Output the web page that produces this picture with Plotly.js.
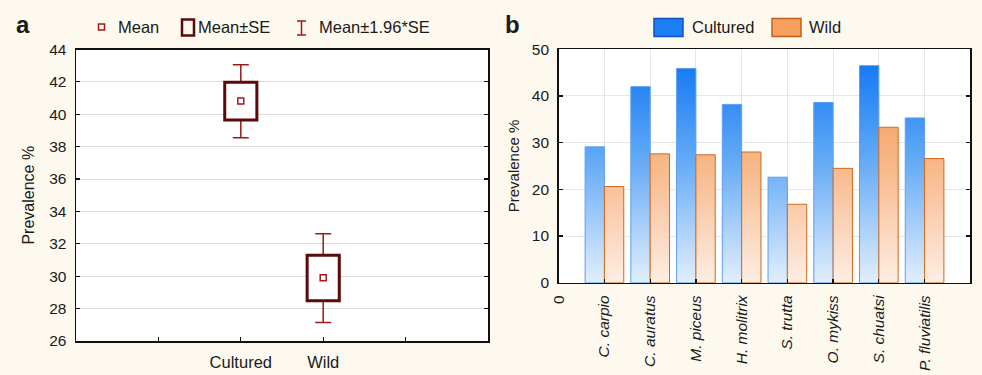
<!DOCTYPE html>
<html>
<head>
<meta charset="utf-8">
<script src="https://cdn.plot.ly/plotly-3.0.1.min.js"></script>
<style>html,body{margin:0;padding:0;background:#fdf9ef;}#chart{width:982px;height:375px;}</style>
</head>
<body>
<div id="chart"></div>
<script>
// ---- Panel a: summary statistics ----
const groups = ['Cultured', 'Wild'];
const meanVals = [40.82, 29.91];
const seLower = [39.65, 28.49];
const seUpper = [41.97, 31.29];
const ciLower = [38.55, 27.15];
const ciUpper = [43.06, 32.62];
const yTicksA = [26, 28, 30, 32, 34, 36, 38, 40, 42, 44];

// ---- Panel b: prevalence by species ----
const species = ['C. carpio', 'C. auratus', 'M. piceus', 'H. molitrix', 'S. trutta', 'O. mykiss', 'S. chuatsi', 'P. fluviatilis'];
const cultured = [29.1, 42.0, 45.9, 38.2, 22.6, 38.6, 46.5, 35.3];
const wild = [20.6, 27.6, 27.4, 28.0, 16.8, 24.5, 33.3, 26.6];
const seriesNames = ['Cultured', 'Wild'];

const FONT = 'Liberation Sans, Arial, Helvetica, sans-serif';
const W = 982, H = 375;
const px = v => v / W;
const py = v => 1 - v / H;

const posA = groups.map((g, i) => i);
const posB = species.map((s, i) => i + 1);

const data = [
  // whiskers (Mean ± 1.96*SE) carried by an invisible bar so they sit under the SE box
  {
    type: 'bar', x: posA, y: meanVals, xaxis: 'x', yaxis: 'y',
    offsetgroup: 'a', width: 0.39,
    marker: {color: 'rgba(0,0,0,0)', line: {width: 0}},
    error_y: {
      type: 'data', symmetric: false,
      array: meanVals.map((m, i) => ciUpper[i] - m),
      arrayminus: meanVals.map((m, i) => m - ciLower[i]),
      color: '#9c1a1a', thickness: 1.5, width: 8
    },
    hoverinfo: 'skip', showlegend: false
  },
  // SE box
  {
    type: 'bar', x: posA, y: seUpper.map((u, i) => u - seLower[i]), base: seLower,
    xaxis: 'x', yaxis: 'y', offsetgroup: 'a', width: 0.39,
    marker: {color: '#ffffff', line: {color: '#5a0a0a', width: 3}},
    showlegend: false
  },
  // Mean
  {
    type: 'scatter', mode: 'markers', x: posA, y: meanVals, xaxis: 'x', yaxis: 'y',
    marker: {symbol: 'square-open', size: 6, color: '#a31a1a', line: {width: 1.5, color: '#a31a1a'}},
    showlegend: false
  },
  // Panel b bars
  {
    type: 'bar', name: seriesNames[0], x: posB, y: cultured, xaxis: 'x2', yaxis: 'y2',
    marker: {color: '#1a7ff5', line: {color: '#5b9ff0', width: 1}}, showlegend: false
  },
  {
    type: 'bar', name: seriesNames[1], x: posB, y: wild, xaxis: 'x2', yaxis: 'y2',
    marker: {color: '#f4a05e', line: {color: '#d0691f', width: 1}}, showlegend: false
  }
];

const axLine = {showline: true, linecolor: '#111', linewidth: 1.5, zeroline: false,
  ticks: 'inside', ticklen: 4, tickwidth: 1.2, tickcolor: '#111'};

const shapes = [
  // legend a
  {type: 'rect', xref: 'paper', yref: 'paper', x0: px(98.5), x1: px(104.5), y0: py(30), y1: py(24), line: {color: '#a31a1a', width: 1.5}},
  {type: 'rect', xref: 'paper', yref: 'paper', x0: px(182), x1: px(194), y0: py(35.5), y1: py(19.5), line: {color: '#5a0a0a', width: 2.5}},
  {type: 'line', xref: 'paper', yref: 'paper', x0: px(301.5), x1: px(301.5), y0: py(35), y1: py(21), line: {color: '#9c1a1a', width: 1.5}},
  {type: 'line', xref: 'paper', yref: 'paper', x0: px(297), x1: px(306), y0: py(21), y1: py(21), line: {color: '#9c1a1a', width: 1.5}},
  {type: 'line', xref: 'paper', yref: 'paper', x0: px(297), x1: px(306), y0: py(35), y1: py(35), line: {color: '#9c1a1a', width: 1.5}},
  // legend b
  {type: 'rect', xref: 'paper', yref: 'paper', x0: px(654), x1: px(683), y0: py(36.5), y1: py(18.5), fillcolor: '#1a7ff5', line: {color: '#1550c0', width: 1.5}},
  {type: 'rect', xref: 'paper', yref: 'paper', x0: px(772), x1: px(801), y0: py(36.5), y1: py(18.5), fillcolor: '#f4a05e', line: {color: '#c0601c', width: 1.5}}
];

const ann = (x, y, text, size, extra) => Object.assign({
  xref: 'paper', yref: 'paper', x: px(x), y: py(y), text: text, showarrow: false,
  xanchor: 'left', yanchor: 'middle', font: {family: FONT, size: size, color: '#1a1a1a'}
}, extra || {});

const annotations = [
  ann(14, 25, '<b>a</b>', 24),
  ann(503, 25, '<b>b</b>', 24),
  ann(116, 27, 'Mean', 16.5),
  ann(196, 27, 'Mean±SE', 16.5),
  ann(317, 27, 'Mean±1.96*SE', 16.5),
  ann(690, 27, seriesNames[0], 16.5),
  ann(807, 27, seriesNames[1], 16.5)
];

const layout = {
  width: W, height: H,
  margin: {l: 0, r: 0, t: 0, b: 0},
  paper_bgcolor: '#fdf9ef', plot_bgcolor: '#ffffff',
  font: {family: FONT, color: '#1a1a1a', size: 15},
  showlegend: false,
  barmode: 'group', bargap: 0.155, bargroupgap: 0,
  xaxis: Object.assign({}, axLine, {
    domain: [px(76), px(488)], anchor: 'y', range: [-2, 3],
    tickmode: 'array', tickvals: [-1, 0, 1, 2], ticktext: [''].concat(groups, ['']),
    mirror: true, showgrid: false, tickfont: {size: 16.5}, ticklabelstandoff: 6
  }),
  yaxis: Object.assign({}, axLine, {
    domain: [py(341), py(49.5)], anchor: 'x', range: [26, 44],
    tickmode: 'array', tickvals: yTicksA,
    mirror: 'ticks', showgrid: true, gridcolor: '#dadada', gridwidth: 1,
    tickfont: {size: 15.5}, ticklabelstandoff: 5,
    title: {text: 'Prevalence %', font: {size: 16}, standoff: 10}
  }),
  xaxis2: Object.assign({}, axLine, {
    domain: [px(558.7), px(970.3)], anchor: 'y2', range: [0, 9],
    tickmode: 'array', tickvals: [0].concat(posB),
    ticktext: ['0'].concat(species.map(s => '<i>' + s + '</i>')),
    tickangle: -90, mirror: true, showgrid: true, gridcolor: '#e6e6e6',
    tickfont: {size: 15.5}, ticklabelstandoff: 5
  }),
  yaxis2: Object.assign({}, axLine, {
    domain: [py(282.7), py(49.3)], anchor: 'x2', range: [0, 50], dtick: 10,
    mirror: 'ticks', showgrid: true, gridcolor: '#e6e6e6',
    tickfont: {size: 15.5}, ticklabelstandoff: 5,
    title: {text: 'Prevalence %', font: {size: 15}, standoff: 8}
  }),
  shapes: shapes,
  annotations: annotations
};

Plotly.newPlot('chart', data, layout, {staticPlot: true, displayModeBar: false}).then(gd => {
  const svgNS = 'http://www.w3.org/2000/svg';
  const svg = gd.querySelector('svg.main-svg');
  let defs = svg.querySelector('defs');
  if (!defs) { defs = document.createElementNS(svgNS, 'defs'); svg.insertBefore(defs, svg.firstChild); }
  const plotH = gd._fullLayout.yaxis2._length;
  function makeGrad(id, stops) {
    const g = document.createElementNS(svgNS, 'linearGradient');
    g.setAttribute('id', id);
    g.setAttribute('gradientUnits', 'userSpaceOnUse');
    g.setAttribute('x1', 0); g.setAttribute('x2', 0);
    g.setAttribute('y1', 0); g.setAttribute('y2', plotH);
    stops.forEach(s => {
      const st = document.createElementNS(svgNS, 'stop');
      st.setAttribute('offset', s[0]);
      st.setAttribute('stop-color', s[1]);
      g.appendChild(st);
    });
    defs.appendChild(g);
  }
  makeGrad('gradCult', [[0, '#0a72f2'], [0.45, '#5ea7f6'], [1, '#e2eefc']]);
  makeGrad('gradWild', [[0, '#f28f48'], [0.5, '#f7b88a'], [1, '#fdeee3']]);
  const traces = gd.querySelectorAll('.subplot.x2y2 .barlayer .trace');
  const ids = ['gradCult', 'gradWild'];
  traces.forEach((t, i) => {
    t.querySelectorAll('.point path').forEach(p => { p.style.fill = 'url(#' + ids[i] + ')'; });
  });
});
</script>
</body>
</html>
